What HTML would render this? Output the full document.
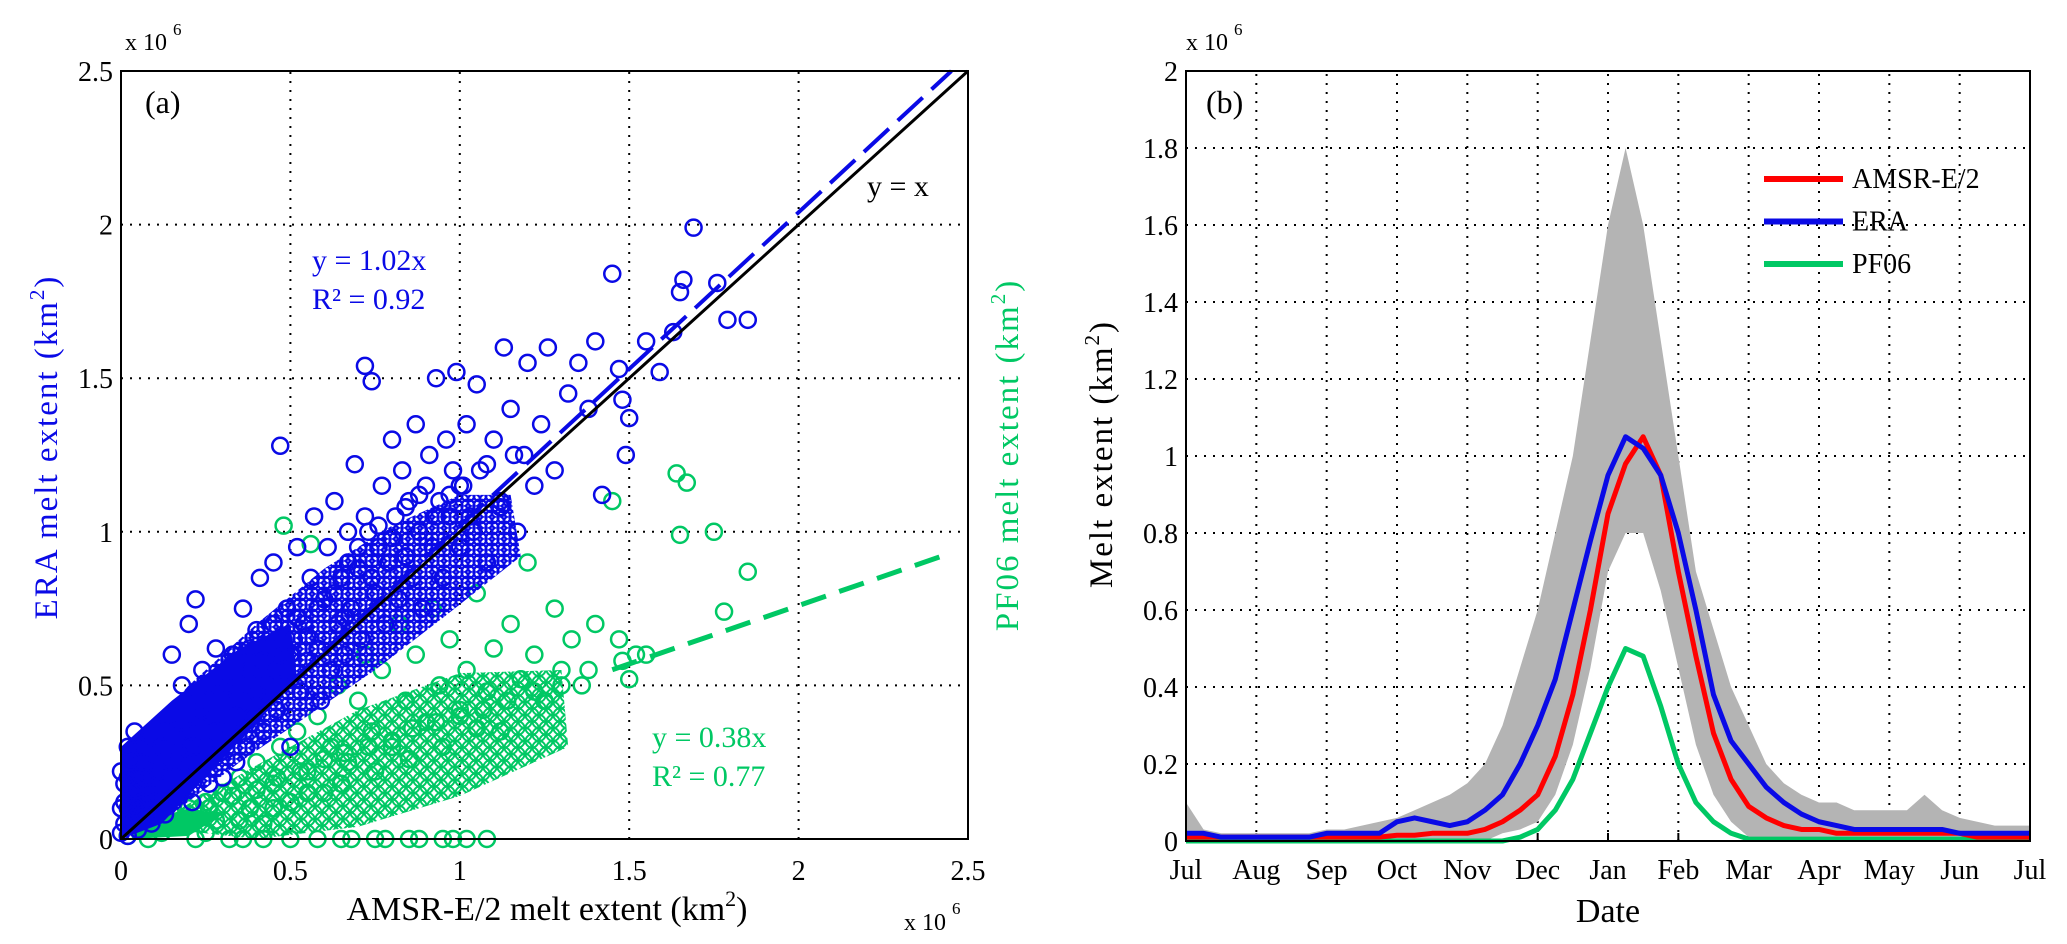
<!DOCTYPE html>
<html><head><meta charset="utf-8"><style>
html,body{margin:0;padding:0;background:#fff;}
svg{display:block;font-family:"Liberation Serif",serif;}
</style></head><body>
<svg id="fig" width="2067" height="944" viewBox="0 0 2067 944">
<defs>
<pattern id="pg" width="14" height="13" patternUnits="userSpaceOnUse"><g fill="none" stroke="#00c864" stroke-width="2"><circle cx="7" cy="6.5" r="6.5"/><circle cx="0" cy="0" r="6.5"/><circle cx="14" cy="0" r="6.5"/><circle cx="0" cy="13" r="6.5"/><circle cx="14" cy="13" r="6.5"/></g></pattern>
<pattern id="pb" width="12" height="11" patternUnits="userSpaceOnUse"><g fill="none" stroke="#0a0ae6" stroke-width="2.3"><circle cx="6" cy="5.5" r="6.5"/><circle cx="0" cy="0" r="6.5"/><circle cx="12" cy="0" r="6.5"/><circle cx="0" cy="11" r="6.5"/><circle cx="12" cy="11" r="6.5"/></g></pattern>
</defs>
</svg>
<script>
// ---- Panel (a) data (units of 1e6 km^2) ----
const blueX=[0,0.01,0.02,0.02,0.03,0.03,0.04,0.05,0.05,0.06,0.07,0.08,0.08,0.09,0.1,0.1,0.01,0,0,0.02,0.04,0.01,0.03,0.05,0.07,0.09,0.02,0.04,0.06,0.12,0.13,0.14,0.15,0.16,0.17,0.18,0.19,0.2,0.21,0.22,0.23,0.24,0.25,0.26,0.27,0.28,0.29,0.3,0.3,0.15,0.2,0.22,0.11,0.13,0.16,0.18,0.21,0.24,0.26,0.28,0.32,0.33,0.34,0.35,0.36,0.37,0.38,0.39,0.4,0.41,0.42,0.43,0.44,0.45,0.46,0.47,0.48,0.49,0.5,0.51,0.52,0.53,0.54,0.55,0.56,0.57,0.58,0.59,0.6,0.31,0.35,0.38,0.42,0.45,0.48,0.52,0.55,0.58,0.34,0.4,0.46,0.5,0.61,0.62,0.63,0.64,0.65,0.66,0.67,0.68,0.69,0.7,0.71,0.72,0.72,0.74,0.75,0.76,0.77,0.78,0.79,0.8,0.81,0.82,0.83,0.84,0.85,0.86,0.87,0.88,0.89,0.9,0.63,0.67,0.7,0.73,0.76,0.8,0.84,0.88,0.66,0.74,0.91,0.92,0.93,0.94,0.95,0.96,0.97,0.98,0.99,1.0,1.01,1.02,1.03,1.05,1.06,1.08,1.1,1.12,1.13,1.15,1.17,1.19,1.2,1.22,1.24,1.26,1.28,0.93,0.97,1.0,1.04,1.08,1.12,1.16,1.32,1.35,1.38,1.4,1.42,1.45,1.47,1.48,1.49,1.5,1.55,1.59,1.65,1.66,1.69,1.76,1.79,1.85,1.63];
const blueY=[0.02,0.05,0.1,0.01,0.15,0.06,0.2,0.03,0.1,0.25,0.08,0.15,0.3,0.05,0.2,0.12,0.18,0.1,0.22,0.3,0.35,0.12,0.26,0.16,0.2,0.28,0.2,0.1,0.12,0.3,0.08,0.2,0.4,0.14,0.28,0.5,0.2,0.35,0.12,0.25,0.45,0.55,0.3,0.18,0.4,0.62,0.28,0.48,0.2,0.6,0.7,0.78,0.22,0.35,0.25,0.38,0.3,0.42,0.5,0.35,0.35,0.6,0.25,0.45,0.75,0.3,0.55,0.4,0.68,0.85,0.35,0.5,0.62,0.9,0.42,1.28,0.55,0.75,0.3,0.65,0.95,0.48,0.7,0.58,0.85,1.05,0.62,0.45,0.78,0.5,0.52,0.62,0.58,0.7,0.64,0.72,0.66,0.75,0.4,0.48,0.55,0.6,0.95,0.55,1.1,0.7,0.85,0.6,1.0,0.75,1.22,0.88,0.65,1.05,1.54,1.49,0.8,0.95,1.15,0.7,0.9,1.3,1.05,0.78,1.2,0.92,1.1,0.85,1.35,1.0,0.75,1.15,0.8,0.9,0.95,1.0,1.02,0.98,1.08,1.12,0.72,0.85,1.25,0.95,1.5,1.1,0.85,1.3,1.05,1.2,1.52,0.95,1.15,1.35,1.05,1.48,1.2,0.9,1.3,1.1,1.6,1.4,1.0,1.25,1.55,1.15,1.35,1.6,1.2,1.05,1.12,1.15,1.0,1.22,1.08,1.25,1.45,1.55,1.4,1.62,1.12,1.84,1.53,1.43,1.25,1.37,1.62,1.52,1.78,1.82,1.99,1.81,1.69,1.69,1.65];
const greenX=[0.02,0.05,0.08,0.1,0.12,0.15,0.18,0.2,0.22,0.25,0.28,0.3,0.32,0.35,0.38,0.4,0.42,0.45,0.47,0.48,0.5,0.52,0.55,0.56,0.58,0.6,0.62,0.64,0.65,0.67,0.7,0.72,0.74,0.75,0.77,0.8,0.82,0.84,0.85,0.87,0.9,0.92,0.94,0.95,0.97,1.0,1.02,1.05,1.08,1.1,1.12,1.15,1.18,1.2,1.22,1.25,1.28,1.3,1.33,1.36,1.4,1.45,1.47,1.48,1.5,1.52,1.55,1.64,1.67,1.65,1.75,1.78,1.85,1.02,0.36,0.42,0.5,0.58,0.68,0.78,0.88,0.98,1.08,0.14,0.2,0.26,0.33,0.4,0.46,0.53,0.6,0.66,0.73,0.8,0.86,0.93,1.0,1.07,1.14,1.22,1.3,1.38,0.25,0.35,0.45,0.55,0.65,0.75,0.85,0.95,1.05];
const greenY=[0.01,0.03,0,0.05,0.02,0.08,0.04,0.1,0,0.12,0.06,0.15,0,0.2,0.1,0.25,0.05,0.18,0.3,1.02,0.12,0.35,0.22,0.96,0.4,0.15,0.3,0.5,0,0.25,0.45,0.6,0.35,0,0.55,0.3,0.7,0.45,0,0.6,0.38,0.75,0.5,0,0.65,0.42,0.55,0.8,0.48,0.62,0.35,0.7,0.52,0.9,0.6,0.45,0.75,0.55,0.65,0.5,0.7,1.1,0.65,0.58,0.52,0.6,0.6,1.19,1.16,0.99,1.0,0.74,0.87,0,0,0,0,0,0,0,0,0,0,0.05,0.08,0.1,0.14,0.16,0.2,0.22,0.26,0.28,0.3,0.32,0.36,0.38,0.4,0.42,0.45,0.48,0.5,0.55,0.02,0.06,0.1,0.15,0.18,0.22,0.26,0.3,0.36];
// dense-cloud outlines (data units)
const blueCloud=[[0,0.25],[0.2,0.5],[0.4,0.7],[0.6,0.88],[0.8,1.02],[1.0,1.12],[1.15,1.12],[1.18,0.92],[0.95,0.72],[0.75,0.55],[0.55,0.4],[0.35,0.25],[0.15,0.08],[0,0]];
const blueCore=[[0,0],[0,0.3],[0.15,0.45],[0.35,0.62],[0.5,0.7],[0.52,0.52],[0.3,0.26],[0.12,0.05]];
const greenCloud=[[0.08,0.04],[0.4,0.24],[0.7,0.42],[1.0,0.54],[1.3,0.55],[1.32,0.3],[1.0,0.14],[0.7,0.04],[0.4,0]];
const greenCore=[[0.03,0],[0.05,0.05],[0.2,0.1],[0.3,0.08],[0.2,0.01]];
const blueSlope=1.02, greenSlope=0.38;
const xTicksA=[0,0.5,1,1.5,2,2.5];
const xTickLabelsA=["0","0.5","1","1.5","2","2.5"];
const yTicksA=[0,0.5,1,1.5,2,2.5];
const yTickLabelsA=["0","0.5","1","1.5","2","2.5"];
// ---- Panel (b) data: values every quarter month from Jul (units 1e6 km^2) ----
const redVals=[0.01,0.01,0.01,0.01,0.01,0.01,0.01,0.01,0.01,0.01,0.01,0.01,0.015,0.015,0.02,0.02,0.02,0.03,0.05,0.08,0.12,0.22,0.38,0.6,0.85,0.98,1.05,0.95,0.7,0.48,0.28,0.16,0.09,0.06,0.04,0.03,0.03,0.02,0.02,0.02,0.02,0.02,0.02,0.02,0.02,0.01,0.01,0.01,0.01];
const blueVals=[0.02,0.02,0.01,0.01,0.01,0.01,0.01,0.01,0.02,0.02,0.02,0.02,0.05,0.06,0.05,0.04,0.05,0.08,0.12,0.2,0.3,0.42,0.6,0.78,0.95,1.05,1.02,0.95,0.8,0.6,0.38,0.26,0.2,0.14,0.1,0.07,0.05,0.04,0.03,0.03,0.03,0.03,0.03,0.03,0.02,0.02,0.02,0.02,0.02];
const greenVals=[0,0,0,0,0,0,0,0,0,0,0,0,0,0,0,0,0,0,0,0.01,0.03,0.08,0.16,0.28,0.4,0.5,0.48,0.35,0.2,0.1,0.05,0.02,0.005,0.005,0.005,0.005,0.005,0.005,0.005,0.005,0.005,0.005,0.005,0.005,0.005,0.005,0.005,0.005,0.005];
const bandHi=[0.1,0.03,0.02,0.02,0.02,0.02,0.02,0.02,0.03,0.03,0.04,0.05,0.06,0.08,0.1,0.12,0.15,0.2,0.3,0.45,0.6,0.8,1.0,1.3,1.6,1.8,1.6,1.3,1.0,0.7,0.55,0.4,0.3,0.2,0.15,0.12,0.1,0.1,0.08,0.08,0.08,0.08,0.12,0.08,0.06,0.05,0.04,0.04,0.04];
const bandLo=[0,0,0,0,0,0,0,0,0,0,0,0,0,0,0,0,0,0,0.02,0.03,0.05,0.12,0.25,0.45,0.7,0.8,0.8,0.65,0.45,0.25,0.12,0.05,0.01,0,0,0,0,0,0,0,0,0,0,0,0,0,0,0,0];
const months=["Jul","Aug","Sep","Oct","Nov","Dec","Jan","Feb","Mar","Apr","May","Jun","Jul"];
const yTicksB=[0,0.2,0.4,0.6,0.8,1,1.2,1.4,1.6,1.8,2];
const yTickLabelsB=["0","0.2","0.4","0.6","0.8","1","1.2","1.4","1.6","1.8","2"];
const legendNames=["AMSR-E/2","ERA","PF06"];

const NS="http://www.w3.org/2000/svg";
const svg=document.getElementById('fig');
function mk(tag,attrs,parent,name){const e=document.createElementNS(NS,tag);for(const k in attrs)e.setAttribute(k,attrs[k]);(parent||svg).appendChild(e);


return e;}
function txt(x,y,s,size,fill,anchor,name,extra){const t=mk('text',Object.assign({x:x,y:y,'font-size':size,fill:fill||'#000','text-anchor':anchor||'middle'},extra||{}),svg,name);t.textContent=s;return t;}

const BLUE="#0a0ae6", GREEN="#00c864", RED="#ff0000";
const A={x0:121,x1:968,y0:839,y1:71};
const ax=v=>A.x0+v/2.5*(A.x1-A.x0), ay=v=>A.y0-v/2.5*(A.y0-A.y1);
const poly=arr=>arr.map(p=>ax(p[0])+','+ay(p[1])).join(' ');
const gA=mk('g',{},svg,'panel-a');
xTicksA.forEach((v,i)=>{ if(i>0&&i<xTicksA.length-1) mk('line',{x1:ax(v),x2:ax(v),y1:A.y0,y2:A.y1,stroke:'#000','stroke-width':2,'stroke-dasharray':'2 7'},gA,'x-gridline-a');
 txt(ax(v),880,xTickLabelsA[i],28,'#000','middle','x-tick-label-a');});
yTicksA.forEach((v,i)=>{ if(i>0&&i<yTicksA.length-1) mk('line',{x1:A.x0,x2:A.x1,y1:ay(v),y2:ay(v),stroke:'#000','stroke-width':2,'stroke-dasharray':'2 7'},gA,'y-gridline-a');
 txt(A.x0-8,ay(v)+10,yTickLabelsA[i],28,'#000','end','y-tick-label-a');});
const gpts=mk('g',{fill:'none','stroke-width':2.5},gA,'green-scatter');
mk('polygon',{points:poly(greenCloud),fill:'url(#pg)'},gpts,'green-scatter-cloud');
mk('polygon',{points:poly(greenCore),fill:GREEN},gpts,'green-scatter-core');
greenX.forEach((x,i)=>mk('circle',{cx:ax(x),cy:ay(greenY[i]),r:8,stroke:GREEN},gpts,'green-point'));
mk('line',{x1:ax(1.45),y1:ay(1.45*greenSlope),x2:ax(2.45),y2:ay(2.45*greenSlope),stroke:GREEN,'stroke-width':5,'stroke-dasharray':'26 14'},gA,'green-fit-line');
const bpts=mk('g',{fill:'none','stroke-width':2.5},gA,'blue-scatter');
mk('polygon',{points:poly(blueCloud),fill:'url(#pb)'},bpts,'blue-scatter-cloud');
mk('polygon',{points:poly(blueCore),fill:BLUE},bpts,'blue-scatter-core');
blueX.forEach((x,i)=>mk('circle',{cx:ax(x),cy:ay(blueY[i]),r:8,stroke:BLUE},bpts,'blue-point'));
mk('line',{x1:ax(0),y1:ay(0),x2:ax(2.5/blueSlope),y2:ay(2.5),stroke:BLUE,'stroke-width':4,'stroke-dasharray':'34 12'},gA,'blue-fit-line');
mk('line',{x1:ax(0),y1:ay(0),x2:ax(2.5),y2:ay(2.5),stroke:'#000','stroke-width':3},gA,'one-to-one-line');
mk('rect',{x:A.x0,y:A.y1,width:A.x1-A.x0,height:A.y0-A.y1,fill:'none',stroke:'#000','stroke-width':2},gA,'axes-frame-a');
txt(145,113,'(a)',32,'#000','start','panel-a-label');
txt(867,196,'y = x',30,'#000','start','identity-label');
txt(312,270,'y = 1.02x',30,BLUE,'start','blue-fit-equation');
txt(312,309,'R\u00b2 = 0.92',30,BLUE,'start','blue-r-squared');
txt(652,747,'y = 0.38x',30,GREEN,'start','green-fit-equation');
txt(652,786,'R\u00b2 = 0.77',30,GREEN,'start','green-r-squared');
txt(125,50,'x 10',24,'#000','start','x10-label-a-top');txt(173,35,'6',17,'#000','start','exp-a-top');
txt(904,930,'x 10',24,'#000','start','x10-label-a-bottom');txt(952,914,'6',17,'#000','start','exp-a-bottom');
const xl=txt(547,920,'AMSR-E/2 melt extent (km',34,'#000','middle','x-axis-title-a');
const xs=document.createElementNS(NS,'tspan');xs.setAttribute('dy','-14');xs.setAttribute('font-size','22');xs.textContent='2';xl.appendChild(xs);
const xe=document.createElementNS(NS,'tspan');xe.setAttribute('dy','14');xe.textContent=')';xl.appendChild(xe);
function vlabel(x,y,s,color,name){const t=txt(x,y,s,33,color,'middle',name,{transform:`rotate(-90 ${x} ${y})`,'letter-spacing':'2'});
 const sp=document.createElementNS(NS,'tspan');sp.setAttribute('dy','-13');sp.setAttribute('font-size','21');sp.textContent='2';t.appendChild(sp);
 const e=document.createElementNS(NS,'tspan');e.setAttribute('dy','13');e.textContent=')';t.appendChild(e);}
vlabel(57,447,'ERA melt extent (km',BLUE,'y-axis-title-a-left');
vlabel(1018,455,'PF06 melt extent (km',GREEN,'y-axis-title-a-right');

// Panel b
const B={x0:1186,x1:2030,y0:841,y1:71};
const bx=m=>B.x0+m/12*(B.x1-B.x0), by=v=>B.y0-v/2*(B.y0-B.y1);
const gB=mk('g',{},svg,'panel-b');
months.forEach((m,i)=>{ if(i>0&&i<12) mk('line',{x1:bx(i),x2:bx(i),y1:B.y0,y2:B.y1,stroke:'#000','stroke-width':2,'stroke-dasharray':'2 7'},gB,'x-gridline-b');
 mk('line',{x1:bx(i),x2:bx(i),y1:B.y0,y2:B.y0-8,stroke:'#000','stroke-width':2},gB,'x-tick-b');
 txt(bx(i),879,m,28,'#000','middle','month-label');});
yTicksB.forEach((v,i)=>{ if(i>0&&i<yTicksB.length-1) mk('line',{x1:B.x0,x2:B.x1,y1:by(v),y2:by(v),stroke:'#000','stroke-width':2,'stroke-dasharray':'2 7'},gB,'y-gridline-b');
 txt(B.x0-8,by(v)+10,yTickLabelsB[i],28,'#000','end','y-tick-label-b');});
const mx=i=>bx(i/4);
let band=bandHi.map((v,i)=>mx(i)+','+by(v)).concat(bandLo.map((v,i)=>[i,v]).reverse().map(p=>mx(p[0])+','+by(p[1])));
mk('polygon',{points:band.join(' '),fill:'#b4b4b4'},gB,'uncertainty-band');
function series(vals,color,name){mk('polyline',{points:vals.map((v,i)=>mx(i)+','+by(v)).join(' '),fill:'none',stroke:color,'stroke-width':5,'stroke-linejoin':'round'},gB,name);}
series(greenVals,GREEN,'pf06-line');series(redVals,RED,'amsr-line');series(blueVals,BLUE,'era-line');
mk('rect',{x:B.x0,y:B.y1,width:B.x1-B.x0,height:B.y0-B.y1,fill:'none',stroke:'#000','stroke-width':2},gB,'axes-frame-b');
txt(1206,113,'(b)',32,'#000','start','panel-b-label');
txt(1186,50,'x 10',24,'#000','start','x10-label-b');txt(1234,35,'6',17,'#000','start','exp-b');
const lg=mk('g',{},svg,'legend');
[RED,BLUE,GREEN].forEach((c,i)=>{const y=179+i*42.5;
 mk('line',{x1:1764,x2:1843,y1:y,y2:y,stroke:c,'stroke-width':6},lg,'legend-swatch');
 txt(1852,y+9,legendNames[i],28,'#000','start','legend-entry');});
txt(1608,922,'Date',34,'#000','middle','x-axis-title-b');
vlabel(1112,454,'Melt extent (km','#000','y-axis-title-b');
</script>
</body></html>
